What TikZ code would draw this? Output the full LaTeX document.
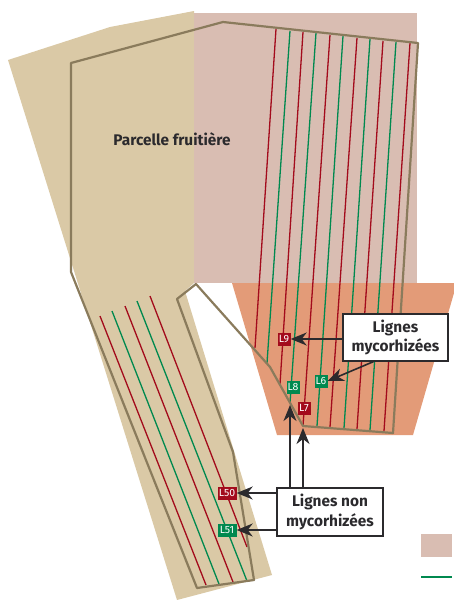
\documentclass[tikz,border=0pt]{standalone}
\usepackage{fontspec}
\setmainfont{Fira Sans}
\usepackage{xcolor}
\usetikzlibrary{arrows.meta,positioning}
\definecolor{tan}{HTML}{DAC9A6}
\definecolor{pinkzone}{HTML}{D9BDB2}
\definecolor{orangezone}{HTML}{E39B78}
\definecolor{edge}{HTML}{8A7B5C}
\definecolor{redline}{HTML}{A30B1C}
\definecolor{greenline}{HTML}{00894F}
\definecolor{ink}{HTML}{2B2A2D}

\begin{document}
\begin{tikzpicture}[x=1pt, y=-1pt, >={Stealth[length=16pt,width=13pt,inset=5pt]},
  rg/.style={draw=redline, line width=1.3pt},
  gr/.style={draw=greenline, line width=1.3pt},
  tag/.style={text=white, inner sep=0pt, minimum height=13pt, font=\fontsize{10.5}{11}\selectfont},
  redtag/.style={tag, fill=redline, minimum width=13pt},
  greentag/.style={tag, fill=greenline, minimum width=13pt},
  callout/.style={draw=ink, fill=white, line width=1.2pt, text=ink, align=center, inner sep=0pt,
    font=\fontsize{15.4}{19.5}\selectfont\bfseries},
  arr/.style={->, draw=ink, line width=1.6pt}]
\useasboundingbox (0,0) rectangle (454,600);
% zones
\fill[tan] (8,60) -- (110,27) -- (194,11) -- (194,283) -- (185,291) -- (272,575) -- (177,600) -- cycle;
\fill[pinkzone] (194,13) rectangle (417,283);
\fill[orangezone] (232,283) -- (454,283) -- (454,293) -- (413,435) -- (277,435) -- cycle;
% lines of the upper block
\foreach \xa/\ya/\xb/\yb/\st in {276/29/255/348/rg, 290/31/267/363/gr, 303/32/280/384/rg,
  316/33/290/403/gr, 330/35/303/426/rg, 343/36/317/426/gr, 357/38/330/427/rg,
  370/39/344/428/gr, 383/41/357/429/rg, 396/42/370/430/gr, 410/43/384/431/rg}
  \draw[\st] (\xa,\ya) -- (\xb,\yb);
% lines of the lower block
\foreach \xa/\ya/\xb/\yb/\st in {100/316/206/585/rg, 112/311/219/584/gr, 125/306/233/582/rg,
  137/301/247/581/gr, 150/296/247/547/rg}
  \draw[\st] (\xa,\ya) -- (\xb,\yb);
% outline
\draw[edge, line width=2.2pt, line join=round] (71,63) -- (223,22) -- (418,43) -- (393,433) -- (303,426)
  -- (270,367) -- (196,284) -- (177,299) -- (233,452) -- (254,580) -- (197,588) -- (71,272) -- cycle;
\node[text=ink, font=\fontsize{15.4}{18}\selectfont\bfseries] (fruit) at (172,139) {Parcelle fruitière};
% labels
\node[redtag] (l9) at (284,339) {L9};
\node[greentag] (l8) at (293,387) {L8};
\node[redtag] (l7) at (304,408) {L7};
\node[greentag] (l6) at (321,381) {L6};
\node[redtag, minimum width=19pt] (l50) at (227,493) {L50};
\node[greentag, minimum width=19pt] (l51) at (227,530) {L51};
\node[callout, minimum width=105pt, minimum height=47pt] (myco) at (395.5,337.5) {Lignes\\mycorhizées};
\node[callout, minimum width=106pt, minimum height=48pt] (nonmyco) at (330,512) {Lignes non\\mycorhizées};
\coordinate (c8) at (290,405);
\coordinate (c7) at (303,428);
\draw[arr] (myco.west |- l9) -- (l9.east);
\draw[arr] ([xshift=-22pt]myco.south) -- (l6.east);
\draw[arr] (nonmyco.north -| c8) -- (c8);
\draw[arr] (nonmyco.north -| c7) -- (c7);
\draw[arr] (nonmyco.west |- l50) -- (l50.east);
\draw[arr] (nonmyco.west |- l51) -- (l51.east);
% legend
\fill[pinkzone] (421,534) rectangle (452,557);
\draw[gr, line width=2.4pt] (421,577) coordinate (lega) -- (452,577) coordinate (legb);
\end{tikzpicture}
\end{document}
